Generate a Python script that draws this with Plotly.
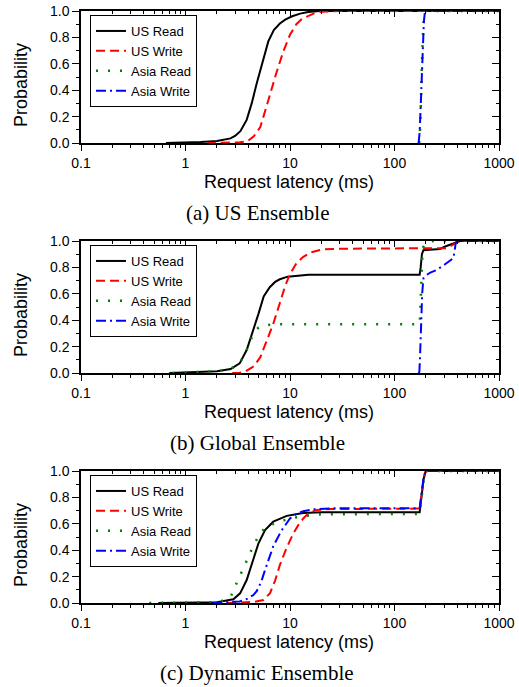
import plotly.graph_objects as go

# ---------------- data ----------------
series_names = ["US Read", "US Write", "Asia Read", "Asia Write"]
captions = ["(a) US Ensemble", "(b) Global Ensemble", "(c) Dynamic Ensemble"]
x_tick_vals = [0.1, 1, 10, 100, 1000]
x_tick_text = ["0.1", "1", "10", "100", "1000"]
x_minor_vals = [0.2, 0.3, 0.4, 0.5, 0.6, 0.7, 0.8, 0.9,
                2, 3, 4, 5, 6, 7, 8, 9,
                20, 30, 40, 50, 60, 70, 80, 90,
                200, 300, 400, 500, 600, 700, 800, 900]
y_tick_vals = [0.0, 0.2, 0.4, 0.6, 0.8, 1.0]
y_tick_text = ["0.0", "0.2", "0.4", "0.6", "0.8", "1.0"]
y_minor_vals = [0.1, 0.3, 0.5, 0.7, 0.9]

# (a) US Ensemble
a_us_read_x = [0.65, 1.0, 1.4, 2.0, 2.7, 3.0, 3.35, 3.85, 4.3, 4.8, 5.2, 5.6, 6.2, 7.0, 8.0, 9.0, 10.5, 12.5, 15, 19, 30, 100, 1000]
a_us_read_y = [0, 0.003, 0.008, 0.015, 0.035, 0.055, 0.09, 0.175, 0.3, 0.45, 0.55, 0.65, 0.77, 0.855, 0.905, 0.935, 0.96, 0.98, 0.993, 1.0, 1.0, 1.0, 1.0]
a_us_write_x = [1.6, 2.5, 3.3, 3.9, 4.5, 5.2, 5.6, 6.4, 7.4, 8.6, 10, 11.5, 13, 15, 17, 20, 30, 1000]
a_us_write_y = [0, 0.002, 0.005, 0.012, 0.05, 0.12, 0.2, 0.36, 0.53, 0.69, 0.82, 0.9, 0.94, 0.965, 0.982, 0.995, 1.0, 1.0]
a_asia_read_x = [172, 175, 178, 181, 185, 190, 195, 300, 1000]
a_asia_read_y = [0, 0.08, 0.25, 0.5, 0.72, 0.92, 1.0, 1.0, 1.0]
a_asia_write_x = [170, 174, 178, 182, 186, 191, 196, 300, 1000]
a_asia_write_y = [0, 0.08, 0.27, 0.5, 0.72, 0.92, 1.0, 1.0, 1.0]

# (b) Global Ensemble
b_us_read_x = [0.7, 1.0, 1.5, 2.0, 2.7, 3.3, 3.85, 4.46, 5.0, 5.6, 6.4, 7.2, 8.0, 9.5, 11.6, 15, 30, 100, 174, 178, 183, 189, 220, 272, 310, 352, 424, 1000]
b_us_read_y = [0, 0.003, 0.008, 0.013, 0.03, 0.073, 0.174, 0.326, 0.45, 0.58, 0.65, 0.69, 0.71, 0.73, 0.738, 0.744, 0.745, 0.745, 0.745, 0.8, 0.9, 0.93, 0.932, 0.94, 0.96, 0.975, 1.0, 1.0]
b_us_write_x = [2.8, 3.3, 3.7, 4.1, 4.5, 5.2, 6.0, 6.9, 8.0, 9.0, 10.0, 11.5, 13.4, 16, 20, 25, 40, 100, 200, 320, 360, 420, 1000]
b_us_write_y = [0, 0.002, 0.01, 0.03, 0.05, 0.12, 0.24, 0.37, 0.53, 0.66, 0.75, 0.83, 0.88, 0.915, 0.935, 0.94, 0.942, 0.943, 0.945, 0.946, 0.97, 1.0, 1.0]
b_asia_read_x = [0.75, 1.0, 1.5, 2.0, 2.7, 3.3, 3.85, 4.46, 5.0, 5.6, 7.0, 10, 50, 150, 174, 176, 178, 181, 185, 190, 200, 234, 300, 1000]
b_asia_read_y = [0, 0.003, 0.008, 0.013, 0.03, 0.073, 0.174, 0.3, 0.345, 0.36, 0.37, 0.37, 0.37, 0.37, 0.37, 0.45, 0.6, 0.75, 0.9, 0.97, 0.985, 1.0, 1.0, 1.0]
b_asia_write_x = [170, 173, 176, 180, 184, 189, 200, 220, 253, 300, 340, 366, 375, 385, 395, 1000]
b_asia_write_y = [0, 0.01, 0.15, 0.4, 0.6, 0.717, 0.74, 0.76, 0.78, 0.82, 0.856, 0.87, 0.92, 0.98, 1.0, 1.0]

# (c) Dynamic Ensemble
c_us_read_x = [0.55, 1.0, 2.0, 2.87, 3.33, 3.85, 4.46, 4.98, 5.77, 6.92, 9.3, 13.4, 20, 50, 174, 178, 183, 190, 197, 203, 300, 1000]
c_us_read_y = [0, 0.002, 0.006, 0.028, 0.073, 0.174, 0.326, 0.45, 0.553, 0.616, 0.66, 0.682, 0.687, 0.687, 0.687, 0.75, 0.85, 0.94, 0.99, 1.0, 1.0, 1.0]
c_us_write_x = [2.5, 3.5, 4.5, 5.56, 6.44, 7.2, 8.0, 9.3, 10.8, 12.0, 13.4, 15, 18, 25, 50, 100, 174, 178, 183, 190, 197, 203, 300, 1000]
c_us_write_y = [0, 0.002, 0.008, 0.022, 0.075, 0.17, 0.288, 0.42, 0.53, 0.59, 0.64, 0.68, 0.705, 0.712, 0.715, 0.715, 0.715, 0.77, 0.86, 0.94, 0.99, 1.0, 1.0, 1.0]
c_asia_read_x = [0.45, 1.0, 1.8, 2.4, 2.7, 3.0, 3.4, 3.9, 4.5, 5.2, 6.0, 7.5, 10, 14, 20, 50, 174, 178, 183, 190, 197, 203, 300, 1000]
c_asia_read_y = [0, 0.002, 0.006, 0.02, 0.045, 0.13, 0.22, 0.33, 0.44, 0.53, 0.58, 0.61, 0.64, 0.66, 0.672, 0.675, 0.675, 0.74, 0.85, 0.94, 0.99, 1.0, 1.0, 1.0]
c_asia_write_x = [1.8, 2.5, 3.3, 3.85, 4.46, 4.8, 5.3, 5.77, 6.92, 8.3, 10, 11.5, 13.4, 16.7, 25, 50, 174, 178, 183, 190, 197, 203, 300, 1000]
c_asia_write_y = [0, 0.004, 0.012, 0.03, 0.06, 0.09, 0.16, 0.25, 0.43, 0.55, 0.64, 0.675, 0.695, 0.71, 0.717, 0.717, 0.717, 0.78, 0.87, 0.95, 0.99, 1.0, 1.0, 1.0]

panels = [
    [(a_us_read_x, a_us_read_y), (a_us_write_x, a_us_write_y), (a_asia_read_x, a_asia_read_y), (a_asia_write_x, a_asia_write_y)],
    [(b_us_read_x, b_us_read_y), (b_us_write_x, b_us_write_y), (b_asia_read_x, b_asia_read_y), (b_asia_write_x, b_asia_write_y)],
    [(c_us_read_x, c_us_read_y), (c_us_write_x, c_us_write_y), (c_asia_read_x, c_asia_read_y), (c_asia_write_x, c_asia_write_y)],
]

# ---------------- geometry (reference pixel coords) ----------------
W, H = 519, 687
REF_L, REF_R = 81, 499
panel_px = [(11, 143), (241, 373), (471, 603)]  # top,bottom rows in pixels
ML = REF_L
MR = W - REF_R
MT = panel_px[0][0]
MB = H - panel_px[2][1]
PH = H - MT - MB
PW = W - ML - MR


def py2paper(py):
    return (H - MB - py) / PH


def px2paper(px):
    return (px - ML) / PW


line_styles = [
    dict(color="#000000", width=2, dash="solid"),
    dict(color="#FF0000", width=2, dash="9px,5px"),
    dict(color="#008000", width=2.5, dash="2px,10px"),
    dict(color="#0000FF", width=2, dash="10px,4px,2px,4px"),
]

SANS = "Liberation Sans, Arial, Helvetica, sans-serif"
AX_FONT = dict(family=SANS, size=14, color="black")
TITLE_FONT = dict(family=SANS, size=18, color="black")
CAP_FONT = dict(family="Liberation Serif, Times New Roman, serif", size=21, color="black")

fig = go.Figure()
layout = dict(
    width=W, height=H,
    margin=dict(l=ML, r=MR, t=MT, b=MB, pad=0),
    paper_bgcolor="white", plot_bgcolor="white",
    showlegend=True,
    annotations=[],
)

for i, panel in enumerate(panels):
    n = i + 1
    top, bot = panel_px[i]
    dom = [py2paper(bot), py2paper(top)]
    xa = "x" if n == 1 else f"x{n}"
    ya = "y" if n == 1 else f"y{n}"
    leg = "legend" if n == 1 else f"legend{n}"
    for k, (xs, ys) in enumerate(panel):
        fig.add_trace(go.Scatter(
            x=xs, y=ys, mode="lines", name=series_names[k],
            line=line_styles[k], xaxis=xa, yaxis=ya, legend=leg,
            hoverinfo="skip",
        ))
    layout[f"xaxis{n}"] = dict(
        type="log", range=[-1, 3], domain=[0, 1], anchor=ya,
        tickmode="array", tickvals=x_tick_vals, ticktext=x_tick_text,
        ticks="outside", ticklen=6, tickwidth=1, tickcolor="black",
        minor=dict(tickmode="array", tickvals=x_minor_vals, ticks="outside", ticklen=3, tickwidth=1, tickcolor="black", showgrid=False),
        showline=True, linecolor="black", linewidth=1.5,
        showgrid=False, zeroline=False, tickfont=AX_FONT, automargin=False,
    )
    layout[f"yaxis{n}"] = dict(
        range=[0, 1], domain=dom, anchor=xa,
        tickmode="array", tickvals=y_tick_vals, ticktext=y_tick_text,
        ticks="outside", ticklen=7, tickwidth=1, tickcolor="black",
        minor=dict(tickmode="array", tickvals=y_minor_vals, ticks="outside", ticklen=3, tickwidth=1, tickcolor="black", showgrid=False),
        showline=True, linecolor="black", linewidth=1.5,
        showgrid=False, zeroline=False, tickfont=AX_FONT, automargin=False,
    )
    m = n + 3
    layout[f"xaxis{m}"] = dict(
        type="log", range=[-1, 3], overlaying=xa, anchor=ya, side="top",
        tickmode="array", tickvals=x_tick_vals, showticklabels=False,
        ticks="inside", ticklen=6, tickwidth=1, tickcolor="black",
        minor=dict(tickmode="array", tickvals=x_minor_vals, ticks="inside", ticklen=3, tickwidth=1, tickcolor="black", showgrid=False),
        showline=True, linecolor="black", linewidth=1.5, showgrid=False, zeroline=False, automargin=False,
    )
    layout[f"yaxis{m}"] = dict(
        range=[0, 1], overlaying=ya, anchor=xa, side="right",
        tickmode="array", tickvals=y_tick_vals, showticklabels=False,
        ticks="inside", ticklen=7, tickwidth=1, tickcolor="black",
        minor=dict(tickmode="array", tickvals=y_minor_vals, ticks="inside", ticklen=3, tickwidth=1, tickcolor="black", showgrid=False),
        showline=True, linecolor="black", linewidth=1.5, showgrid=False, zeroline=False, automargin=False,
    )
    fig.add_trace(go.Scatter(x=[1], y=[None], mode="lines", xaxis=f"x{m}", yaxis=f"y{m}",
                             showlegend=False, hoverinfo="skip"))
    layout[leg] = dict(
        x=px2paper(90), y=py2paper(top + 4), xanchor="left", yanchor="top",
        bgcolor="white", bordercolor="black", borderwidth=1,
        font=dict(family=SANS, size=13, color="black"),
        tracegroupgap=0, itemwidth=30,
    )
    layout["annotations"].append(dict(
        text="Request latency (ms)", xref="paper", yref="paper",
        x=px2paper(289), y=py2paper(bot + 39), xanchor="center", yanchor="middle",
        showarrow=False, font=TITLE_FONT))
    layout["annotations"].append(dict(
        text="Probability", xref="paper", yref="paper", textangle=-90,
        x=px2paper(21), y=py2paper((top + bot) / 2 + 8), xanchor="center", yanchor="middle",
        showarrow=False, font=TITLE_FONT))
    layout["annotations"].append(dict(
        text=captions[i], xref="paper", yref="paper",
        x=px2paper(257), y=py2paper(bot + 70), xanchor="center", yanchor="middle",
        showarrow=False, font=CAP_FONT))

fig.update_layout(**layout)
# remove the browser's default page margin so the 519x687 figure fills the window exactly
fig.write_html(
    "out.html",
    config={"displayModeBar": False},
    post_script="document.body.style.margin='0';document.body.style.overflow='hidden';",
)
